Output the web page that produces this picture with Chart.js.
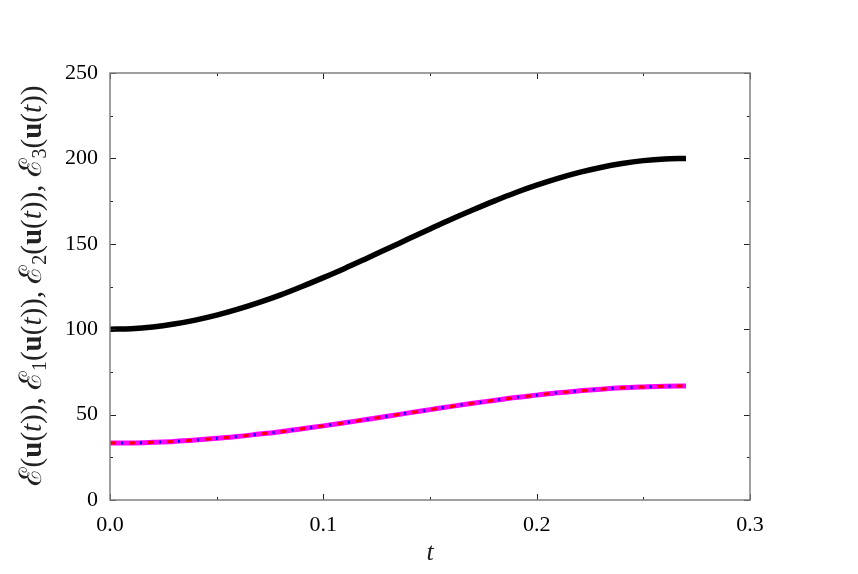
<!DOCTYPE html>
<html>
<head>
<meta charset="utf-8">
<script src="https://cdn.jsdelivr.net/npm/chart.js@4.4.1/dist/chart.umd.min.js"></script>
<style>
  html, body { margin: 0; padding: 0; background: #fff; }
  #wrap { position: relative; width: 858px; height: 574px; }
</style>
</head>
<body>
<div id="wrap"><canvas id="energy"></canvas></div>
<script>
// values, t step 0.01
var tValues = [0.00, 0.01, 0.02, 0.03, 0.04, 0.05, 0.06, 0.07, 0.08, 0.09,
               0.10, 0.11, 0.12, 0.13, 0.14, 0.15, 0.16, 0.17, 0.18, 0.19,
               0.20, 0.21, 0.22, 0.23, 0.24, 0.25, 0.26, 0.27];
var eTotal = [100.0, 100.3, 101.3, 103.0, 105.3, 108.2, 111.7, 115.7, 120.1, 125.0,
              130.2, 135.6, 141.3, 147.1, 152.9, 158.7, 164.4, 169.8, 175.0, 179.9,
              184.3, 188.3, 191.8, 194.7, 197.0, 198.7, 199.7, 200.0];
var e1 = [33.3, 33.4, 33.8, 34.3, 35.1, 36.1, 37.2, 38.6, 40.0, 41.7,
          43.4, 45.2, 47.1, 49.0, 51.0, 52.9, 54.8, 56.6, 58.3, 60.0,
          61.4, 62.8, 63.9, 64.9, 65.7, 66.2, 66.6, 66.7];
var e2 = e1.slice();
var e3 = e1.slice();
var xTicks = [0.0, 0.1, 0.2, 0.3];
var yTicks = [0, 50, 100, 150, 200, 250];

function pts(ys){
    return tValues.map(function(t, i){ return {x: t, y: ys[i]}; });
}

var serif = "'Liberation Serif', 'DejaVu Serif', serif";

// gnuplot style frame with inward ticks on all sides
var framePlugin = {
    id: 'frame',
    afterDraw: function(chart){
        var ctx = chart.ctx, a = chart.chartArea;
        var xs = chart.scales.x, ys = chart.scales.y;
        ctx.save();
        ctx.strokeStyle = '#222';
        ctx.lineWidth = 1;
        for (var v = 0; v <= 0.3001; v += 0.05) {
            var px = Math.round(xs.getPixelForValue(v)) + 0.5;
            var len = (Math.round(v * 100) % 10 === 0) ? 6 : 3;
            ctx.beginPath();
            ctx.moveTo(px, a.bottom); ctx.lineTo(px, a.bottom - len);
            ctx.moveTo(px, a.top); ctx.lineTo(px, a.top + len);
            ctx.stroke();
        }
        for (var w = 0; w <= 250; w += 25) {
            var py = Math.round(ys.getPixelForValue(w)) + 0.5;
            var l2 = (w % 50 === 0) ? 6 : 3;
            ctx.beginPath();
            ctx.moveTo(a.left, py); ctx.lineTo(a.left + l2, py);
            ctx.moveTo(a.right, py); ctx.lineTo(a.right - l2, py);
            ctx.stroke();
        }
        ctx.strokeStyle = '#808080';
        ctx.lineWidth = 1.5;
        ctx.strokeRect(a.left, a.top, a.right - a.left, a.bottom - a.top);

        // axis titles
        ctx.fillStyle = '#222';
        ctx.textBaseline = 'alphabetic';
        ctx.font = 'italic 26px ' + serif;
        ctx.textAlign = 'center';
        ctx.fillText('t', (a.left + a.right) / 2, 560);

        var segs = [
            ['ℰ', 'e'], ['(', 'n'], ['u', 'b'], ['(', 'n'], ['t', 'i'], [')), ', 'n'],
            ['ℰ', 'e'], ['1', 's'], ['(', 'n'], ['u', 'b'], ['(', 'n'], ['t', 'i'], [')), ', 'n'],
            ['ℰ', 'e'], ['2', 's'], ['(', 'n'], ['u', 'b'], ['(', 'n'], ['t', 'i'], [')), ', 'n'],
            ['ℰ', 'e'], ['3', 's'], ['(', 'n'], ['u', 'b'], ['(', 'n'], ['t', 'i'], ['))', 'n']
        ];
        function fontFor(s){
            if (s === 'b') return 'bold 29px ' + serif;
            if (s === 'i') return 'italic 29px ' + serif;
            if (s === 's') return '20px ' + serif;
            if (s === 'e') return "31px 'DejaVu Serif', serif";
            return '29px ' + serif;
        }
        var total = 0;
        segs.forEach(function(s){ ctx.font = fontFor(s[1]); total += ctx.measureText(s[0]).width; });
        ctx.translate(41, 286);
        ctx.rotate(-Math.PI / 2);
        ctx.textAlign = 'left';
        var cx = -total / 2;
        segs.forEach(function(s){
            ctx.font = fontFor(s[1]);
            ctx.fillText(s[0], cx, s[1] === 's' ? 5 : 0);
            cx += ctx.measureText(s[0]).width;
        });
        ctx.restore();
    }
};

var lineStyle = {pointRadius: 0, cubicInterpolationMode: 'monotone', fill: false};

new Chart(document.getElementById('energy'), {
    type: 'line',
    data: {
        datasets: [
            Object.assign({label: 'E', data: pts(eTotal), borderColor: '#000', borderWidth: 5.5, order: 4}, lineStyle),
            Object.assign({label: 'E1', data: pts(e1), borderColor: '#ff00ff', borderWidth: 5, order: 3}, lineStyle),
            Object.assign({label: 'E2', data: pts(e2), borderColor: '#ff0000', borderWidth: 3, borderDash: [6, 13], order: 2}, lineStyle),
            Object.assign({label: 'E3', data: pts(e3), borderColor: '#0000ff', borderWidth: 3, borderDash: [2, 17], borderDashOffset: 8, order: 1}, lineStyle)
        ]
    },
    options: {
        responsive: true,
        maintainAspectRatio: false,
        animation: false,
        layout: {padding: {top: 73, right: 108, left: 0, bottom: 0}},
        plugins: {legend: {display: false}, tooltip: {enabled: false}},
        scales: {
            x: {
                type: 'linear', min: 0, max: 0.3,
                afterBuildTicks: function(s){ s.ticks = xTicks.map(function(v){ return {value: v}; }); },
                afterFit: function(s){ s.height = 74; },
                grid: {display: false, drawTicks: false},
                border: {display: false},
                ticks: {color: '#000', padding: 12, font: {family: serif, size: 22},
                        callback: function(v){ return v.toFixed(1); }}
            },
            y: {
                type: 'linear', min: 0, max: 250,
                afterBuildTicks: function(s){ s.ticks = yTicks.map(function(v){ return {value: v}; }); },
                afterFit: function(s){ s.width = 110; },
                grid: {display: false, drawTicks: false},
                border: {display: false},
                ticks: {color: '#000', padding: 12, font: {family: serif, size: 22}}
            }
        }
    },
    plugins: [framePlugin]
});
</script>
</body>
</html>
